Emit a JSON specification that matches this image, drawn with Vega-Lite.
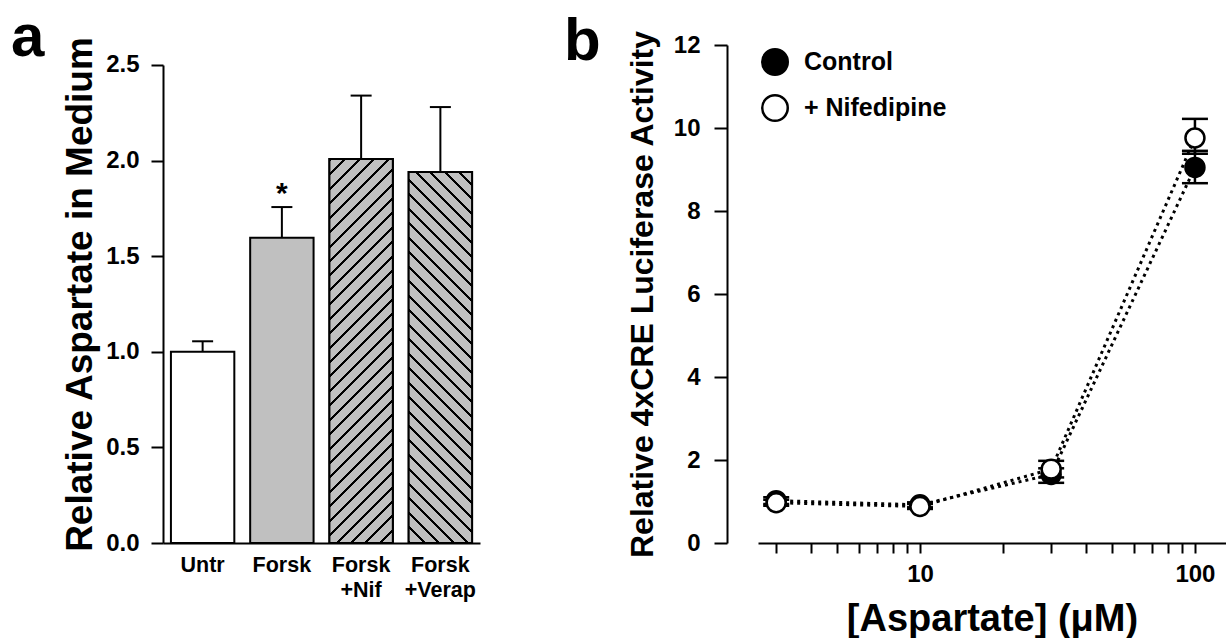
{
  "$schema": "https://vega.github.io/schema/vega-lite/v6.json",
  "background": "white",
  "padding": {"left": 11, "top": 7, "right": 0, "bottom": 0},
  "config": {
    "font": "Liberation Sans",
    "view": {"stroke": null},
    "axis": {"labelFont": "Liberation Sans", "titleFont": "Liberation Sans", "labelFontWeight": "bold", "titleFontWeight": "bold", "labelColor": "black", "titleColor": "black", "domainColor": "black", "tickColor": "black", "domainWidth": 2, "tickWidth": 2, "grid": false},
    "legend": {"labelFont": "Liberation Sans", "labelFontWeight": "bold", "labelColor": "black"},
    "title": {"font": "Liberation Sans", "fontWeight": "bold", "color": "black"}
  },
  "bounds": "flush",
  "spacing": 278,
  "resolve": {"scale": {"x": "independent", "y": "independent", "fill": "independent"}, "axis": {"x": "independent", "y": "independent"}, "legend": {"fill": "independent"}},
  "hconcat": [
    {
      "width": 317,
      "height": 498,
      "title": {"text": "a", "anchor": "start", "frame": "group", "fontSize": 60, "baseline": "alphabetic", "offset": 0, "dx": -152, "dy": 80},
      "data": {"values": [
        {"group": "Untr", "value": 1.0, "upper": 1.055, "sig": ""},
        {"group": "Forsk", "value": 1.597, "upper": 1.757, "sig": "*"},
        {"group": "Forsk +Nif", "value": 2.008, "upper": 2.34, "sig": ""},
        {"group": "Forsk +Verap", "value": 1.94, "upper": 2.28, "sig": ""}
      ]},
      "encoding": {
        "x": {"field": "group", "type": "nominal", "sort": null, "scale": {"paddingInner": 0.2, "paddingOuter": 0.1},
          "axis": {"title": null, "labelAngle": 0, "ticks": false, "labelFontSize": 21.5, "labelPadding": 11, "labelLineHeight": 25, "labelBaseline": "top", "labelExpr": "split(datum.label, ' ')"}}
      },
      "layer": [
        {
          "mark": {"type": "bar", "stroke": "black", "strokeWidth": 2},
          "encoding": {
            "y": {"field": "value", "type": "quantitative", "scale": {"domain": [0, 2.6046], "nice": false},
              "axis": {"title": "Relative Aspartate in Medium", "titleFontSize": 37, "titlePadding": 6, "values": [0, 0.5, 1, 1.5, 2, 2.5], "format": ".1f", "labelFontSize": 24, "tickSize": 12, "labelPadding": 12, "domainDash": [478, 100]}},
            "fill": {"field": "group", "type": "nominal", "scale": {"domain": ["Untr", "Forsk", "Forsk +Nif", "Forsk +Verap"], "range": ["white", "#c0c0c0", "#c0c0c0", "#c0c0c0"]}, "legend": null}
          }
        },
        {
          "transform": [{"filter": "datum.group === 'Forsk +Nif'"}],
          "mark": {"type": "bar", "stroke": "black", "strokeWidth": 2, "fill": {"gradient": "linear", "x1": 0, "y1": 0, "x2": 0.1873, "y2": 1.1342, "stops": [
            {"offset": 0, "color": "#000"}, {"offset": 0.0067, "color": "#000"}, {"offset": 0.0067, "color": "#c0c0c0"}, {"offset": 0.0323, "color": "#c0c0c0"},
            {"offset": 0.0323, "color": "#000"}, {"offset": 0.039, "color": "#000"}, {"offset": 0.039, "color": "#c0c0c0"}, {"offset": 0.0645, "color": "#c0c0c0"},
            {"offset": 0.0645, "color": "#000"}, {"offset": 0.0712, "color": "#000"}, {"offset": 0.0712, "color": "#c0c0c0"}, {"offset": 0.0968, "color": "#c0c0c0"},
            {"offset": 0.0968, "color": "#000"}, {"offset": 0.1035, "color": "#000"}, {"offset": 0.1035, "color": "#c0c0c0"}, {"offset": 0.129, "color": "#c0c0c0"},
            {"offset": 0.129, "color": "#000"}, {"offset": 0.1357, "color": "#000"}, {"offset": 0.1357, "color": "#c0c0c0"}, {"offset": 0.1613, "color": "#c0c0c0"},
            {"offset": 0.1613, "color": "#000"}, {"offset": 0.168, "color": "#000"}, {"offset": 0.168, "color": "#c0c0c0"}, {"offset": 0.1935, "color": "#c0c0c0"},
            {"offset": 0.1935, "color": "#000"}, {"offset": 0.2002, "color": "#000"}, {"offset": 0.2002, "color": "#c0c0c0"}, {"offset": 0.2258, "color": "#c0c0c0"},
            {"offset": 0.2258, "color": "#000"}, {"offset": 0.2325, "color": "#000"}, {"offset": 0.2325, "color": "#c0c0c0"}, {"offset": 0.2581, "color": "#c0c0c0"},
            {"offset": 0.2581, "color": "#000"}, {"offset": 0.2648, "color": "#000"}, {"offset": 0.2648, "color": "#c0c0c0"}, {"offset": 0.2903, "color": "#c0c0c0"},
            {"offset": 0.2903, "color": "#000"}, {"offset": 0.297, "color": "#000"}, {"offset": 0.297, "color": "#c0c0c0"}, {"offset": 0.3226, "color": "#c0c0c0"},
            {"offset": 0.3226, "color": "#000"}, {"offset": 0.3293, "color": "#000"}, {"offset": 0.3293, "color": "#c0c0c0"}, {"offset": 0.3548, "color": "#c0c0c0"},
            {"offset": 0.3548, "color": "#000"}, {"offset": 0.3615, "color": "#000"}, {"offset": 0.3615, "color": "#c0c0c0"}, {"offset": 0.3871, "color": "#c0c0c0"},
            {"offset": 0.3871, "color": "#000"}, {"offset": 0.3938, "color": "#000"}, {"offset": 0.3938, "color": "#c0c0c0"}, {"offset": 0.4194, "color": "#c0c0c0"},
            {"offset": 0.4194, "color": "#000"}, {"offset": 0.4261, "color": "#000"}, {"offset": 0.4261, "color": "#c0c0c0"}, {"offset": 0.4516, "color": "#c0c0c0"},
            {"offset": 0.4516, "color": "#000"}, {"offset": 0.4583, "color": "#000"}, {"offset": 0.4583, "color": "#c0c0c0"}, {"offset": 0.4839, "color": "#c0c0c0"},
            {"offset": 0.4839, "color": "#000"}, {"offset": 0.4906, "color": "#000"}, {"offset": 0.4906, "color": "#c0c0c0"}, {"offset": 0.5161, "color": "#c0c0c0"},
            {"offset": 0.5161, "color": "#000"}, {"offset": 0.5228, "color": "#000"}, {"offset": 0.5228, "color": "#c0c0c0"}, {"offset": 0.5484, "color": "#c0c0c0"},
            {"offset": 0.5484, "color": "#000"}, {"offset": 0.5551, "color": "#000"}, {"offset": 0.5551, "color": "#c0c0c0"}, {"offset": 0.5806, "color": "#c0c0c0"},
            {"offset": 0.5806, "color": "#000"}, {"offset": 0.5873, "color": "#000"}, {"offset": 0.5873, "color": "#c0c0c0"}, {"offset": 0.6129, "color": "#c0c0c0"},
            {"offset": 0.6129, "color": "#000"}, {"offset": 0.6196, "color": "#000"}, {"offset": 0.6196, "color": "#c0c0c0"}, {"offset": 0.6452, "color": "#c0c0c0"},
            {"offset": 0.6452, "color": "#000"}, {"offset": 0.6519, "color": "#000"}, {"offset": 0.6519, "color": "#c0c0c0"}, {"offset": 0.6774, "color": "#c0c0c0"},
            {"offset": 0.6774, "color": "#000"}, {"offset": 0.6841, "color": "#000"}, {"offset": 0.6841, "color": "#c0c0c0"}, {"offset": 0.7097, "color": "#c0c0c0"},
            {"offset": 0.7097, "color": "#000"}, {"offset": 0.7164, "color": "#000"}, {"offset": 0.7164, "color": "#c0c0c0"}, {"offset": 0.7419, "color": "#c0c0c0"},
            {"offset": 0.7419, "color": "#000"}, {"offset": 0.7486, "color": "#000"}, {"offset": 0.7486, "color": "#c0c0c0"}, {"offset": 0.7742, "color": "#c0c0c0"},
            {"offset": 0.7742, "color": "#000"}, {"offset": 0.7809, "color": "#000"}, {"offset": 0.7809, "color": "#c0c0c0"}, {"offset": 0.8065, "color": "#c0c0c0"},
            {"offset": 0.8065, "color": "#000"}, {"offset": 0.8132, "color": "#000"}, {"offset": 0.8132, "color": "#c0c0c0"}, {"offset": 0.8387, "color": "#c0c0c0"},
            {"offset": 0.8387, "color": "#000"}, {"offset": 0.8454, "color": "#000"}, {"offset": 0.8454, "color": "#c0c0c0"}, {"offset": 0.871, "color": "#c0c0c0"},
            {"offset": 0.871, "color": "#000"}, {"offset": 0.8777, "color": "#000"}, {"offset": 0.8777, "color": "#c0c0c0"}, {"offset": 0.9032, "color": "#c0c0c0"},
            {"offset": 0.9032, "color": "#000"}, {"offset": 0.9099, "color": "#000"}, {"offset": 0.9099, "color": "#c0c0c0"}, {"offset": 0.9355, "color": "#c0c0c0"},
            {"offset": 0.9355, "color": "#000"}, {"offset": 0.9422, "color": "#000"}, {"offset": 0.9422, "color": "#c0c0c0"}, {"offset": 0.9677, "color": "#c0c0c0"},
            {"offset": 0.9677, "color": "#000"}, {"offset": 0.9744, "color": "#000"}, {"offset": 0.9744, "color": "#c0c0c0"}, {"offset": 1, "color": "#c0c0c0"}
          ]}},
          "encoding": {"y": {"field": "value", "type": "quantitative", "scale": {"domain": [0, 2.6046], "nice": false}, "axis": {"title": "Relative Aspartate in Medium", "titleFontSize": 37, "titlePadding": 6, "values": [0, 0.5, 1, 1.5, 2, 2.5], "format": ".1f", "labelFontSize": 24, "tickSize": 12, "labelPadding": 12, "domainDash": [478, 100]}}}
        },
        {
          "transform": [{"filter": "datum.group === 'Forsk +Verap'"}],
          "mark": {"type": "bar", "stroke": "black", "strokeWidth": 2, "fill": {"gradient": "linear", "x1": 0, "y1": 1, "x2": 0.1944, "y2": -0.1377, "stops": [
            {"offset": 0, "color": "#000"}, {"offset": 0.0069, "color": "#000"}, {"offset": 0.0069, "color": "#c0c0c0"}, {"offset": 0.0333, "color": "#c0c0c0"},
            {"offset": 0.0333, "color": "#000"}, {"offset": 0.0402, "color": "#000"}, {"offset": 0.0402, "color": "#c0c0c0"}, {"offset": 0.0667, "color": "#c0c0c0"},
            {"offset": 0.0667, "color": "#000"}, {"offset": 0.0736, "color": "#000"}, {"offset": 0.0736, "color": "#c0c0c0"}, {"offset": 0.1, "color": "#c0c0c0"},
            {"offset": 0.1, "color": "#000"}, {"offset": 0.1069, "color": "#000"}, {"offset": 0.1069, "color": "#c0c0c0"}, {"offset": 0.1333, "color": "#c0c0c0"},
            {"offset": 0.1333, "color": "#000"}, {"offset": 0.1402, "color": "#000"}, {"offset": 0.1402, "color": "#c0c0c0"}, {"offset": 0.1667, "color": "#c0c0c0"},
            {"offset": 0.1667, "color": "#000"}, {"offset": 0.1736, "color": "#000"}, {"offset": 0.1736, "color": "#c0c0c0"}, {"offset": 0.2, "color": "#c0c0c0"},
            {"offset": 0.2, "color": "#000"}, {"offset": 0.2069, "color": "#000"}, {"offset": 0.2069, "color": "#c0c0c0"}, {"offset": 0.2333, "color": "#c0c0c0"},
            {"offset": 0.2333, "color": "#000"}, {"offset": 0.2402, "color": "#000"}, {"offset": 0.2402, "color": "#c0c0c0"}, {"offset": 0.2667, "color": "#c0c0c0"},
            {"offset": 0.2667, "color": "#000"}, {"offset": 0.2736, "color": "#000"}, {"offset": 0.2736, "color": "#c0c0c0"}, {"offset": 0.3, "color": "#c0c0c0"},
            {"offset": 0.3, "color": "#000"}, {"offset": 0.3069, "color": "#000"}, {"offset": 0.3069, "color": "#c0c0c0"}, {"offset": 0.3333, "color": "#c0c0c0"},
            {"offset": 0.3333, "color": "#000"}, {"offset": 0.3402, "color": "#000"}, {"offset": 0.3402, "color": "#c0c0c0"}, {"offset": 0.3667, "color": "#c0c0c0"},
            {"offset": 0.3667, "color": "#000"}, {"offset": 0.3736, "color": "#000"}, {"offset": 0.3736, "color": "#c0c0c0"}, {"offset": 0.4, "color": "#c0c0c0"},
            {"offset": 0.4, "color": "#000"}, {"offset": 0.4069, "color": "#000"}, {"offset": 0.4069, "color": "#c0c0c0"}, {"offset": 0.4333, "color": "#c0c0c0"},
            {"offset": 0.4333, "color": "#000"}, {"offset": 0.4402, "color": "#000"}, {"offset": 0.4402, "color": "#c0c0c0"}, {"offset": 0.4667, "color": "#c0c0c0"},
            {"offset": 0.4667, "color": "#000"}, {"offset": 0.4736, "color": "#000"}, {"offset": 0.4736, "color": "#c0c0c0"}, {"offset": 0.5, "color": "#c0c0c0"},
            {"offset": 0.5, "color": "#000"}, {"offset": 0.5069, "color": "#000"}, {"offset": 0.5069, "color": "#c0c0c0"}, {"offset": 0.5333, "color": "#c0c0c0"},
            {"offset": 0.5333, "color": "#000"}, {"offset": 0.5402, "color": "#000"}, {"offset": 0.5402, "color": "#c0c0c0"}, {"offset": 0.5667, "color": "#c0c0c0"},
            {"offset": 0.5667, "color": "#000"}, {"offset": 0.5736, "color": "#000"}, {"offset": 0.5736, "color": "#c0c0c0"}, {"offset": 0.6, "color": "#c0c0c0"},
            {"offset": 0.6, "color": "#000"}, {"offset": 0.6069, "color": "#000"}, {"offset": 0.6069, "color": "#c0c0c0"}, {"offset": 0.6333, "color": "#c0c0c0"},
            {"offset": 0.6333, "color": "#000"}, {"offset": 0.6402, "color": "#000"}, {"offset": 0.6402, "color": "#c0c0c0"}, {"offset": 0.6667, "color": "#c0c0c0"},
            {"offset": 0.6667, "color": "#000"}, {"offset": 0.6736, "color": "#000"}, {"offset": 0.6736, "color": "#c0c0c0"}, {"offset": 0.7, "color": "#c0c0c0"},
            {"offset": 0.7, "color": "#000"}, {"offset": 0.7069, "color": "#000"}, {"offset": 0.7069, "color": "#c0c0c0"}, {"offset": 0.7333, "color": "#c0c0c0"},
            {"offset": 0.7333, "color": "#000"}, {"offset": 0.7402, "color": "#000"}, {"offset": 0.7402, "color": "#c0c0c0"}, {"offset": 0.7667, "color": "#c0c0c0"},
            {"offset": 0.7667, "color": "#000"}, {"offset": 0.7736, "color": "#000"}, {"offset": 0.7736, "color": "#c0c0c0"}, {"offset": 0.8, "color": "#c0c0c0"},
            {"offset": 0.8, "color": "#000"}, {"offset": 0.8069, "color": "#000"}, {"offset": 0.8069, "color": "#c0c0c0"}, {"offset": 0.8333, "color": "#c0c0c0"},
            {"offset": 0.8333, "color": "#000"}, {"offset": 0.8402, "color": "#000"}, {"offset": 0.8402, "color": "#c0c0c0"}, {"offset": 0.8667, "color": "#c0c0c0"},
            {"offset": 0.8667, "color": "#000"}, {"offset": 0.8736, "color": "#000"}, {"offset": 0.8736, "color": "#c0c0c0"}, {"offset": 0.9, "color": "#c0c0c0"},
            {"offset": 0.9, "color": "#000"}, {"offset": 0.9069, "color": "#000"}, {"offset": 0.9069, "color": "#c0c0c0"}, {"offset": 0.9333, "color": "#c0c0c0"},
            {"offset": 0.9333, "color": "#000"}, {"offset": 0.9402, "color": "#000"}, {"offset": 0.9402, "color": "#c0c0c0"}, {"offset": 0.9667, "color": "#c0c0c0"},
            {"offset": 0.9667, "color": "#000"}, {"offset": 0.9736, "color": "#000"}, {"offset": 0.9736, "color": "#c0c0c0"}, {"offset": 1, "color": "#c0c0c0"}
          ]}},
          "encoding": {"y": {"field": "value", "type": "quantitative", "scale": {"domain": [0, 2.6046], "nice": false}, "axis": {"title": "Relative Aspartate in Medium", "titleFontSize": 37, "titlePadding": 6, "values": [0, 0.5, 1, 1.5, 2, 2.5], "format": ".1f", "labelFontSize": 24, "tickSize": 12, "labelPadding": 12, "domainDash": [478, 100]}}}
        },
        {
          "mark": {"type": "rule", "color": "black", "strokeWidth": 2},
          "encoding": {
            "y": {"field": "value", "type": "quantitative", "scale": {"domain": [0, 2.6046], "nice": false}, "axis": {"title": "Relative Aspartate in Medium", "titleFontSize": 37, "titlePadding": 6, "values": [0, 0.5, 1, 1.5, 2, 2.5], "format": ".1f", "labelFontSize": 24, "tickSize": 12, "labelPadding": 12, "domainDash": [478, 100]}},
            "y2": {"field": "upper"}
          }
        },
        {
          "mark": {"type": "tick", "orient": "horizontal", "color": "black", "size": 21, "thickness": 2, "opacity": 1},
          "encoding": {"y": {"field": "upper", "type": "quantitative", "scale": {"domain": [0, 2.6046], "nice": false}, "axis": {"title": "Relative Aspartate in Medium", "titleFontSize": 37, "titlePadding": 6, "values": [0, 0.5, 1, 1.5, 2, 2.5], "format": ".1f", "labelFontSize": 24, "tickSize": 12, "labelPadding": 12, "domainDash": [478, 100]}}}
        },
        {
          "mark": {"type": "text", "fontSize": 30, "fontWeight": "bold", "font": "Liberation Sans", "baseline": "alphabetic", "dy": -4, "color": "black"},
          "encoding": {
            "y": {"field": "upper", "type": "quantitative", "scale": {"domain": [0, 2.6046], "nice": false}, "axis": {"title": "Relative Aspartate in Medium", "titleFontSize": 37, "titlePadding": 6, "values": [0, 0.5, 1, 1.5, 2, 2.5], "format": ".1f", "labelFontSize": 24, "tickSize": 12, "labelPadding": 12, "domainDash": [478, 100]}},
            "text": {"field": "sig"}
          }
        }
      ]
    },
    {
      "width": 468,
      "height": 498,
      "title": {"text": "b", "anchor": "start", "frame": "group", "fontSize": 60, "baseline": "alphabetic", "offset": 0, "dx": -194, "dy": 90},
      "data": {"values": [
        {"conc": 3, "series": "Control", "mean": 1.02, "lo": 0.94, "hi": 1.1},
        {"conc": 10, "series": "Control", "mean": 0.92, "lo": 0.86, "hi": 0.98},
        {"conc": 30, "series": "Control", "mean": 1.65, "lo": 1.45, "hi": 1.8},
        {"conc": 100, "series": "Control", "mean": 9.05, "lo": 8.67, "hi": 9.45},
        {"conc": 3, "series": "+ Nifedipine", "mean": 0.97, "lo": 0.9, "hi": 1.04},
        {"conc": 10, "series": "+ Nifedipine", "mean": 0.88, "lo": 0.82, "hi": 0.94},
        {"conc": 30, "series": "+ Nifedipine", "mean": 1.78, "lo": 1.58, "hi": 1.98},
        {"conc": 100, "series": "+ Nifedipine", "mean": 9.76, "lo": 9.38, "hi": 10.22}
      ]},
      "encoding": {
        "x": {"field": "conc", "type": "quantitative", "scale": {"type": "log", "domain": [2.576, 129.7], "nice": false},
          "axis": {"title": "[Aspartate] (μM)", "values": [3, 4, 5, 6, 7, 8, 9, 10, 20, 30, 40, 50, 60, 70, 80, 90, 100], "format": "d", "labelExpr": "datum.value == 10 || datum.value == 100 ? datum.label : ''", "tickSize": 10, "labelFontSize": 24, "labelPadding": 9, "titleFontSize": 38, "titlePadding": 14, "labelFlush": false, "labelOverlap": false}}
      },
      "layer": [
        {
          "mark": {"type": "line", "color": "black", "strokeWidth": 3, "strokeDash": [3, 4]},
          "encoding": {
            "y": {"field": "mean", "type": "quantitative", "scale": {"domain": [0, 12], "nice": false},
              "axis": {"title": "Relative 4xCRE Luciferase Activity", "titleFontSize": 32, "titlePadding": 14, "values": [0, 2, 4, 6, 8, 10, 12], "labelFontSize": 24, "tickSize": 13, "labelPadding": 14, "offset": 31}},
            "detail": {"field": "series"}
          }
        },
        {
          "mark": {"type": "rule", "color": "black", "strokeWidth": 2.5},
          "encoding": {
            "y": {"field": "lo", "type": "quantitative", "scale": {"domain": [0, 12], "nice": false}, "axis": {"title": "Relative 4xCRE Luciferase Activity", "titleFontSize": 32, "titlePadding": 14, "values": [0, 2, 4, 6, 8, 10, 12], "labelFontSize": 24, "tickSize": 13, "labelPadding": 14, "offset": 31}},
            "y2": {"field": "hi"}
          }
        },
        {
          "mark": {"type": "tick", "orient": "horizontal", "color": "black", "size": 26, "thickness": 2.5, "opacity": 1},
          "encoding": {"y": {"field": "lo", "type": "quantitative", "scale": {"domain": [0, 12], "nice": false}, "axis": {"title": "Relative 4xCRE Luciferase Activity", "titleFontSize": 32, "titlePadding": 14, "values": [0, 2, 4, 6, 8, 10, 12], "labelFontSize": 24, "tickSize": 13, "labelPadding": 14, "offset": 31}}}
        },
        {
          "mark": {"type": "tick", "orient": "horizontal", "color": "black", "size": 26, "thickness": 2.5, "opacity": 1},
          "encoding": {"y": {"field": "hi", "type": "quantitative", "scale": {"domain": [0, 12], "nice": false}, "axis": {"title": "Relative 4xCRE Luciferase Activity", "titleFontSize": 32, "titlePadding": 14, "values": [0, 2, 4, 6, 8, 10, 12], "labelFontSize": 24, "tickSize": 13, "labelPadding": 14, "offset": 31}}}
        },
        {
          "mark": {"type": "point", "shape": "circle", "filled": true, "stroke": "black", "strokeWidth": 2.5, "size": 360, "opacity": 1},
          "encoding": {
            "y": {"field": "mean", "type": "quantitative", "scale": {"domain": [0, 12], "nice": false}, "axis": {"title": "Relative 4xCRE Luciferase Activity", "titleFontSize": 32, "titlePadding": 14, "values": [0, 2, 4, 6, 8, 10, 12], "labelFontSize": 24, "tickSize": 13, "labelPadding": 14, "offset": 31}},
            "fill": {"field": "series", "type": "nominal", "scale": {"domain": ["Control", "+ Nifedipine"], "range": ["black", "white"]},
              "legend": {"title": null, "orient": "top-left", "offset": 3, "padding": 0, "symbolType": "circle", "symbolSize": 650, "symbolStrokeColor": "black", "symbolStrokeWidth": 2.5, "symbolOpacity": 1, "labelFontSize": 25, "labelOffset": 15, "rowPadding": 10}}
          }
        }
      ]
    }
  ]
}
